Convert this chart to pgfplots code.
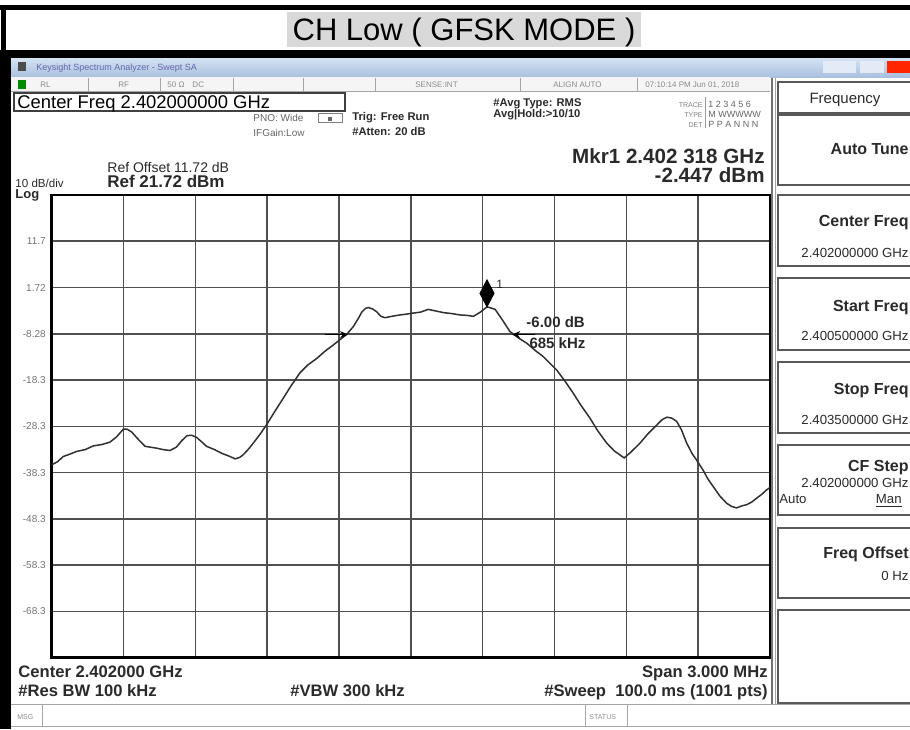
\documentclass[border=0pt]{standalone}
\usepackage{pgfplots}
\pgfplotsset{compat=1.18}
\usepackage{fontspec}
\setmainfont{Liberation Sans}
\usetikzlibrary{arrows.meta}
\definecolor{gridc}{HTML}{505050}
\definecolor{tracec}{HTML}{303030}
\definecolor{titlegray}{HTML}{D9D9D9}
\definecolor{barTop}{HTML}{D5E2F2}
\definecolor{barBot}{HTML}{A9C0DE}
\definecolor{lgray}{HTML}{8A8A8A}
\definecolor{dgray}{HTML}{2A2A2A}
\newcommand\fs[1]{\fontsize{#1}{#1}\selectfont}
\begin{document}
\begin{tikzpicture}
\useasboundingbox (0,0) rectangle (455pt,-364.5pt);
\fill[white] (0,0) rectangle (455pt,-364.5pt);
\begin{scope}[x=0.5pt,y=-0.5pt]
 % title row
 \fill[black] (0,5) rectangle (910,10);
 \fill[black] (1,5) rectangle (6,50);
 \fill[titlegray] (287,12) rectangle (641,47);
 \node[anchor=base, inner sep=0pt] at (464,40) {\fs{15.5}CH Low ( GFSK MODE )};
 % screenshot frame
 \fill[black] (0,50) rectangle (910,58);
 \fill[black] (0,50) rectangle (11,729);
 % window title bar
 \shade[top color=barTop, bottom color=barBot] (11,58) rectangle (910,77);
 \fill[black!70] (18,62) rectangle (26,71);
 \node[anchor=base west, inner sep=0pt, text=black!55!blue!60] at (36,70) {\fs{4.5}Keysight Spectrum Analyzer - Swept SA};
 \fill[barTop!70!white] (823,61) rectangle (856,73);
 \fill[barTop!70!white] (860,61) rectangle (884,73);
 \fill[red!70!orange] (887,61) rectangle (910,73);
 % status row
 \fill[black!4] (11,77) rectangle (770,91);
 \draw[black!35, line width=0.4pt] (11,91) -- (770,91);
 \foreach \sx in {88,160,233,303,375,520,637} \draw[black!35, line width=0.4pt] (\sx,78) -- (\sx,91);
 \fill[green!55!black] (18,80) rectangle (26,89);
 \begin{scope}[every node/.style={anchor=base west, inner sep=0pt, text=lgray}]
  \node at (40,87) {\fs{4}RL};
  \node at (118,87) {\fs{4}RF};
  \node at (167,87) {\fs{4}50 Ω\quad DC};
  \node at (415,87) {\fs{4}SENSE:INT};
  \node at (553,87) {\fs{4}ALIGN AUTO};
  \node at (645,87) {\fs{4}07:10:14 PM Jun 01, 2018};
 \end{scope}
 % header
 \draw[black!75, line width=0.6pt] (14,93) rectangle (345,111);
 \node[anchor=base west, inner sep=0pt] at (17,108.5) {\fs{9.2}Center Freq 2.402000000 GHz};
 \begin{scope}[every node/.style={anchor=base west, inner sep=0pt}]
  \node[text=black!60] at (253,121.5) {\fs{5}PNO: Wide};
  \node[text=black!60] at (253,136.5) {\fs{5}IFGain:Low};
  \node[text=dgray] at (352,120.5) {\fs{5.6}\bfseries Trig: Free Run};
  \node[text=dgray] at (352,135.5) {\fs{5.6}\bfseries \#Atten: 20 dB};
  \node[text=dgray] at (493,106.5) {\fs{5.6}\bfseries \#Avg Type: RMS};
  \node[text=dgray] at (493,117.5) {\fs{5.6}\bfseries Avg|Hold:>10/10};
  \node[text=black!60] at (708,107) {\fs{4.5}1 2 3 4 5 6};
  \node[text=black!60] at (708,117) {\fs{4.5}M WWWWW};
  \node[text=black!60] at (708,127) {\fs{4.5}P P A N N N};
  \node[text=dgray] at (107,172) {\fs{7}Ref Offset 11.72 dB};
  \node[text=dgray] at (107,187) {\fs{8.5}\bfseries Ref 21.72 dBm};
  \node[text=dgray] at (15,187) {\fs{5.8}10 dB/div};
  \node[text=dgray] at (15,198) {\fs{6.5}\bfseries Log};
 \end{scope}
 \draw[black!50, line width=0.4pt] (318,113) rectangle (342,122);
 \fill[black!60] (328,117) rectangle (332,121);
 \begin{scope}[every node/.style={anchor=base east, inner sep=0pt, text=black!50}]
  \node at (703,107) {\fs{3.5}TRACE};
  \node at (703,117) {\fs{3.5}TYPE};
  \node at (703,127) {\fs{3.5}DET};
 \end{scope}
 \draw[black!40, line width=0.4pt] (705,97) -- (705,128);
 \begin{scope}[every node/.style={anchor=base east, inner sep=0pt, text=dgray}]
  \node at (765,163) {\fs{10.3}\bfseries Mkr1 2.402 318 GHz};
  \node at (765,182) {\fs{10.3}\bfseries -2.447 dBm};
 \end{scope}
 % right panel
 \draw[black!55, line width=0.6pt] (772,78) -- (772,704);
 \draw[black!35, line width=0.4pt] (775,78) -- (775,704);
 \foreach \ya/\yb in {82/113,115/185,195/266,278/350,362/433,445/515,528/598,610/703}
   \draw[black!65, line width=0.8pt] (911,\ya) -- (778,\ya) -- (778,\yb) -- (911,\yb);
 \node[anchor=base, inner sep=0pt, text=dgray] at (845,103) {\fs{7.5}Frequency};
 \begin{scope}[every node/.style={anchor=base east, inner sep=0pt, text=dgray}]
  \node at (909,154) {\fs{8}\bfseries Auto Tune};
  \node at (909,226) {\fs{8}\bfseries Center Freq};
  \node at (909,257) {\fs{6.6}2.402000000 GHz};
  \node at (909,311) {\fs{8}\bfseries Start Freq};
  \node at (909,340) {\fs{6.6}2.400500000 GHz};
  \node at (909,394) {\fs{8}\bfseries Stop Freq};
  \node at (909,424) {\fs{6.6}2.403500000 GHz};
  \node at (909,471) {\fs{8}\bfseries CF Step};
  \node at (909,487) {\fs{6.6}2.402000000 GHz};
  \node at (902,503) {\fs{6.6}\underline{Man}};
  \node at (909,558) {\fs{8}\bfseries Freq Offset};
  \node at (909,580) {\fs{6.6}0 Hz};
 \end{scope}
 \node[anchor=base west, inner sep=0pt, text=dgray] at (779,503) {\fs{6.6}Auto};
 % bottom texts
 \begin{scope}[every node/.style={anchor=base west, inner sep=0pt, text=dgray}]
  \node at (18,677) {\fs{8.3}\bfseries Center 2.402000 GHz};
  \node at (18,696) {\fs{8.3}\bfseries \#Res BW 100 kHz};
  \node at (290,696) {\fs{8.3}\bfseries \#VBW 300 kHz};
 \end{scope}
 \begin{scope}[every node/.style={anchor=base east, inner sep=0pt, text=dgray}]
  \node at (768,677) {\fs{8.3}\bfseries Span 3.000 MHz};
  \node at (768,696) {\fs{8.3}\bfseries \#Sweep\ \ 100.0 ms (1001 pts)};
 \end{scope}
 % message bar
 \draw[black!35, line width=0.5pt] (11,704) -- (910,704);
 \draw[black!35, line width=0.5pt] (11,726) -- (910,726);
 \foreach \sx in {42,585,627} \draw[black!35, line width=0.4pt] (\sx,704) -- (\sx,726);
 \node[anchor=base west, inner sep=0pt, text=lgray] at (17,719) {\fs{3.5}MSG};
 \node[anchor=base west, inner sep=0pt, text=lgray] at (589,719) {\fs{3.5}STATUS};
\end{scope}
\begin{axis}[
  at={(25.85pt,-328.85pt)}, anchor=south west,
  width=359.15pt, height=231.35pt, scale only axis,
  xmin=-1.5, xmax=1.5, ymin=-78.28, ymax=21.72,
  xtick={-1.2,-0.9,-0.6,-0.3,0,0.3,0.6,0.9,1.2},
  xticklabels={},
  ytick={11.72,1.72,-8.28,-18.28,-28.28,-38.28,-48.28,-58.28,-68.28},
  yticklabels={11.7,1.72,-8.28,-18.3,-28.3,-38.3,-48.3,-58.3,-68.3},
  grid=major, major grid style={draw=gridc, line width=0.8pt},
  major tick length=0pt,
  axis line style={line width=1.3pt, black},
  tick label style={font=\fs{5}, text=black!55},
  yticklabel style={inner sep=0pt, xshift=-2.8pt},
  /pgf/number format/assume math mode=true,
]
\addplot[tracec, line width=0.75pt] coordinates {
(-1.500,-36.6) (-1.475,-35.9) (-1.452,-34.8) (-1.425,-34.3) (-1.396,-33.7)
(-1.360,-33.3) (-1.326,-32.5) (-1.290,-32.2) (-1.257,-31.7) (-1.230,-30.6)
(-1.201,-28.9) (-1.185,-28.9) (-1.166,-29.5) (-1.140,-31.0) (-1.110,-32.6)
(-1.085,-32.8) (-1.061,-33.0) (-1.035,-33.3) (-1.006,-33.5) (-0.980,-32.8)
(-0.957,-31.4) (-0.935,-30.3) (-0.915,-30.2) (-0.894,-30.7) (-0.870,-31.8)
(-0.853,-32.6) (-0.820,-33.3) (-0.790,-34.1) (-0.760,-34.7) (-0.734,-35.3)
(-0.715,-35.0) (-0.700,-34.4) (-0.680,-33.3) (-0.658,-31.9) (-0.630,-30.0)
(-0.602,-27.9) (-0.570,-25.2) (-0.533,-22.2) (-0.500,-19.5) (-0.463,-16.7)
(-0.430,-15.0) (-0.393,-13.6) (-0.360,-12.1) (-0.324,-10.7) (-0.295,-9.5)
(-0.268,-8.4) (-0.240,-6.7) (-0.220,-5.0) (-0.205,-3.6) (-0.190,-2.8)
(-0.178,-2.6) (-0.160,-2.9) (-0.143,-3.5) (-0.125,-4.5) (-0.108,-4.8)
(-0.080,-4.5) (-0.045,-4.2) (-0.015,-4.0) (0.010,-3.8) (0.040,-3.6)
(0.073,-3.0) (0.100,-3.3) (0.136,-3.7) (0.170,-3.9) (0.205,-4.2)
(0.235,-4.3) (0.261,-4.5) (0.290,-3.6) (0.318,-2.45) (0.335,-2.7)
(0.352,-3.0) (0.380,-5.1) (0.414,-7.8) (0.450,-9.2) (0.484,-10.3)
(0.520,-11.9) (0.553,-13.2) (0.580,-14.6) (0.609,-16.1) (0.645,-18.6)
(0.678,-21.1) (0.710,-23.7) (0.748,-26.5) (0.780,-29.2) (0.818,-31.9)
(0.850,-33.6) (0.891,-35.1) (0.920,-33.8) (0.957,-31.9) (0.990,-29.9)
(1.027,-28.0) (1.050,-26.8) (1.069,-26.3) (1.090,-26.5) (1.110,-27.2)
(1.130,-29.0) (1.152,-31.9) (1.175,-34.2) (1.194,-35.6) (1.221,-37.8)
(1.240,-39.6) (1.263,-41.3) (1.290,-43.3) (1.319,-44.9) (1.340,-45.6)
(1.361,-45.9) (1.380,-45.5) (1.403,-45.2) (1.425,-44.6) (1.444,-43.8)
(1.465,-43.0) (1.486,-42.0) (1.500,-41.5)
};
\addplot[only marks, mark=diamond*, mark size=6.75pt, mark options={black, xscale=0.7, yshift=6.75pt}] coordinates {(0.318,-2.447)};
\addplot[black, line width=0.7pt, -{Stealth[length=4pt,width=3.5pt]}] coordinates {(-0.36,-8.447) (-0.262,-8.447)};
\addplot[black, line width=0.7pt, -{Stealth[length=4pt,width=3.5pt]}] coordinates {(0.52,-8.447) (0.423,-8.447)};
\node[anchor=base west, inner sep=0pt, text=dgray] at (axis cs:0.356,1.62) {\fs{6}1};
\node[anchor=base west, inner sep=0pt, text=dgray] at (axis cs:0.481,-7.02) {\fs{7.5}\bfseries -6.00 dB};
\node[anchor=base west, inner sep=0pt, text=dgray] at (axis cs:0.494,-11.56) {\fs{7.5}\bfseries 685 kHz};
\end{axis}
\end{tikzpicture}
\end{document}
